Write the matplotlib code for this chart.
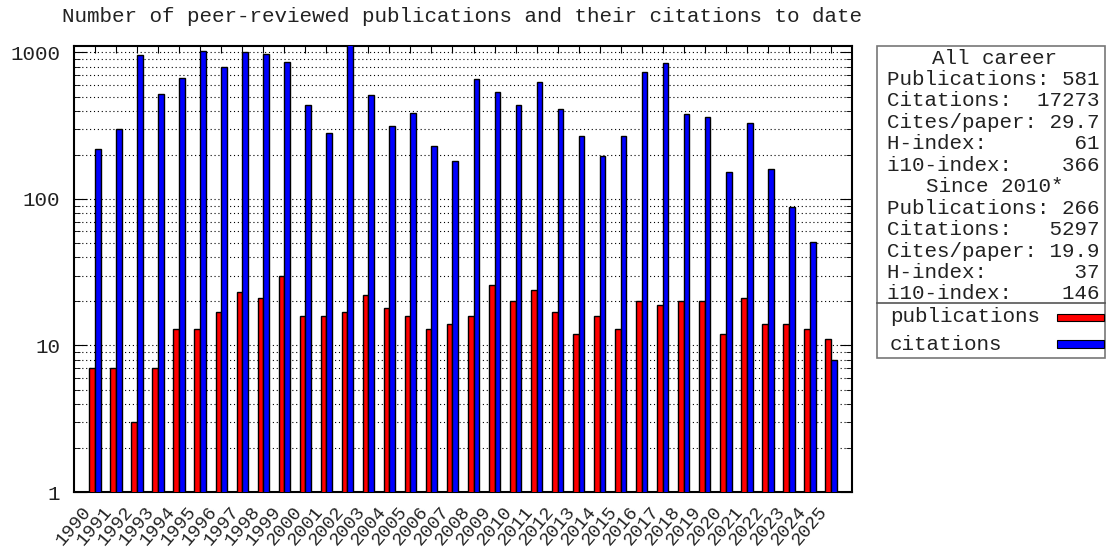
import numpy as np
import matplotlib
matplotlib.use('Agg')
import matplotlib.pyplot as plt
from matplotlib.patches import Rectangle
from matplotlib.lines import Line2D

annees = list(range(1990, 2026))
publications = [7, 7, 3, 7, 13, 13, 17, 23, 21, 30, 16, 16, 17, 22, 18, 16, 13, 14,
                16, 26, 20, 24, 17, 12, 16, 13, 20, 19, 20, 20, 12, 21, 14, 14, 13, 11]
citations = [218, 299, 961, 518, 666, 1019, 796, 1003, 971, 861, 436, 281, 1150, 513,
             314, 385, 230, 181, 656, 540, 436, 629, 411, 268, 197, 269, 736, 848,
             379, 361, 152, 330, 160, 88, 51, 8]

titre = "Number of peer-reviewed publications and their citations to date"
stats_lignes = [
    "All career",
    "Publications: 581",
    "Citations:  17273",
    "Cites/paper: 29.7",
    "H-index:       61",
    "i10-index:    366",
    "Since 2010*",
    "Publications: 266",
    "Citations:   5297",
    "Cites/paper: 19.9",
    "H-index:       37",
    "i10-index:    146",
]
entetes = {0, 6}
legende = [("publications", "#ff0000"), ("citations", "#0000ff")]

police = "Liberation Mono"
taille = 15
couleur_txt = "#222222"
plt.rcParams['font.family'] = [police, 'DejaVu Sans']

W, H = 1109, 554
fig = plt.figure(figsize=(W / 100, H / 100), dpi=100)

def fx(px):
    return px / W

def fy(py):
    return 1 - py / H

ax = fig.add_axes([fx(74), fy(492), fx(852) - fx(74), fy(46) - fy(492)])

x = np.array(annees)
largeur = 0.27
ax.bar(x, publications, width=-largeur, align='edge', color='#ff0000',
       edgecolor='black', linewidth=1, zorder=3)
ax.bar(x, citations, width=largeur, align='edge', color='#0000ff',
       edgecolor='black', linewidth=1, zorder=3)

ax.set_yscale('log')
ax.set_ylim(1, 1107)
ax.set_xlim(1989, 2026)

ax.set_xticks(annees)
ax.set_xticklabels([str(a) for a in annees], rotation=50, ha='right', va='top',
                   fontsize=13.5, color=couleur_txt)
ax.set_yticks([1, 10, 100, 1000])
ax.set_yticklabels(['1', '10', '100', '1000'], fontsize=taille, color=couleur_txt)

ax.tick_params(axis='x', which='both', direction='in', length=5, top=True,
               bottom=True, pad=8)
ax.tick_params(axis='y', which='major', direction='in', length=9, right=True, pad=10)
ax.tick_params(axis='y', which='minor', direction='in', length=4, right=True,
               labelleft=False)

ax.grid(True, axis='y', which='both', color='black', linestyle=(0, (1, 2.5)),
        linewidth=0.8, zorder=0)
for sp in ax.spines.values():
    sp.set_linewidth(1.5)

fig.text(fx(462), fy(16), titre, ha='center', va='center', fontsize=taille,
         color=couleur_txt)

# boite des statistiques + legende
fig.patches.append(Rectangle((fx(877), fy(358)), fx(1105) - fx(877), fy(46) - fy(358),
                             transform=fig.transFigure, fill=False,
                             edgecolor='#777777', linewidth=1.2))
fig.lines.append(Line2D([fx(877), fx(1105)], [fy(302.7), fy(302.7)],
                        transform=fig.transFigure, color='#555555', linewidth=1.2))

y0, pas = 58, 21.45
for i, ligne in enumerate(stats_lignes):
    if i in entetes:
        fig.text(fx(995), fy(y0 + i * pas), ligne, ha='center', va='center',
                 fontsize=taille, color=couleur_txt)
    else:
        fig.text(fx(887), fy(y0 + i * pas), ligne, ha='left', va='center',
                 fontsize=taille, color=couleur_txt)

for j, (nom, coul) in enumerate(legende):
    yy = 317 + j * 27
    fig.text(fx(890), fy(yy), nom, ha='left', va='center', fontsize=taille,
             color=couleur_txt)
    fig.patches.append(Rectangle((fx(1057), fy(yy + 3.5)), fx(1104) - fx(1057),
                                 fy(yy - 3.5) - fy(yy + 3.5), transform=fig.transFigure,
                                 facecolor=coul, edgecolor='black', linewidth=0.8))

fig.savefig('out.png', dpi=100)
